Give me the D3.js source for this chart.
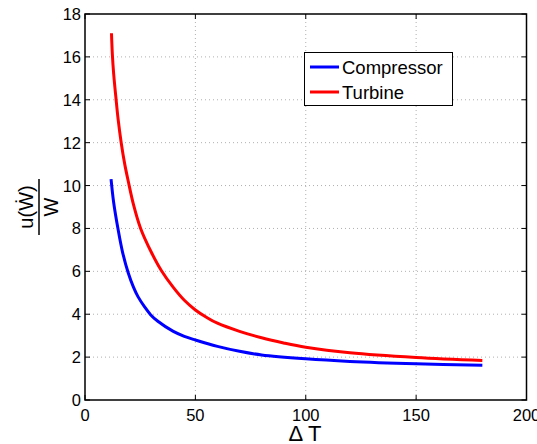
<!DOCTYPE html>
<html>
<head>
<meta charset="utf-8">
<script src="https://cdn.jsdelivr.net/npm/d3@7"></script>
<style>
body { margin: 0; background: #fff; }
text { font-family: "Liberation Sans", Arial, sans-serif; fill: #000; }
</style>
</head>
<body>
<svg width="537" height="444"></svg>
<script>
var svg = d3.select("svg");

// values
var xTicks = [0, 50, 100, 150, 200];
var yTicks = [0, 2, 4, 6, 8, 10, 12, 14, 16, 18];

var compDT = [11.8, 13, 15, 17, 19.6, 22, 24, 27, 29.7, 33, 40, 45, 50, 60, 70, 80, 100, 120, 150, 180];
var compU  = [10.3, 9.2, 7.95, 6.9, 5.92, 5.25, 4.82, 4.34, 3.98, 3.67, 3.2, 2.97, 2.8, 2.5, 2.27, 2.1, 1.92, 1.8, 1.69, 1.62];

var turbDT = [12, 12.4, 13, 14.1, 15, 16.4, 18, 19.6, 22, 25.2, 30, 34.5, 40, 45, 50, 55, 60, 70, 80, 90, 100, 120, 150, 180];
var turbU  = [17.1, 16.1, 15.2, 14.0, 13.1, 12.0, 11.0, 10.2, 9.1, 8.0, 6.9, 6.05, 5.25, 4.65, 4.2, 3.86, 3.58, 3.2, 2.9, 2.66, 2.46, 2.2, 1.98, 1.84];

var series = [
    { name: "Compressor", color: "#0000ff", xs: compDT, ys: compU },
    { name: "Turbine", color: "#ff0000", xs: turbDT, ys: turbU }
];

var pLeft = 85, pRight = 526.5, pTop = 14, pBottom = 400;

var x = d3.scaleLinear().domain([0, 200]).range([pLeft, pRight]);
var y = d3.scaleLinear().domain([0, 18]).range([pBottom, pTop]);

// grid
var grid = svg.append("g").attr("stroke", "#b0b0b0").attr("stroke-dasharray", "1,3").attr("stroke-width", 1);
grid.selectAll(".gx").data(xTicks.slice(1, -1)).enter().append("line")
    .attr("x1", function(d) { return x(d); }).attr("x2", function(d) { return x(d); })
    .attr("y1", pTop).attr("y2", pBottom);
grid.selectAll(".gy").data(yTicks.slice(1, -1)).enter().append("line")
    .attr("y1", function(d) { return y(d); }).attr("y2", function(d) { return y(d); })
    .attr("x1", pLeft).attr("x2", pRight);

// ticks inside, all four sides
var ticks = svg.append("g").attr("stroke", "#000").attr("stroke-width", 1);
xTicks.forEach(function(d) {
    ticks.append("line").attr("x1", x(d)).attr("x2", x(d)).attr("y1", pBottom).attr("y2", pBottom - 5);
    ticks.append("line").attr("x1", x(d)).attr("x2", x(d)).attr("y1", pTop).attr("y2", pTop + 5);
});
yTicks.forEach(function(d) {
    ticks.append("line").attr("y1", y(d)).attr("y2", y(d)).attr("x1", pLeft).attr("x2", pLeft + 5);
    ticks.append("line").attr("y1", y(d)).attr("y2", y(d)).attr("x1", pRight).attr("x2", pRight - 5);
});

svg.append("g").selectAll("text").data(xTicks).enter().append("text")
    .attr("x", function(d) { return x(d); }).attr("y", 421)
    .attr("text-anchor", "middle").attr("font-size", 16.5)
    .text(function(d) { return d; });
svg.append("g").selectAll("text").data(yTicks).enter().append("text")
    .attr("x", 81).attr("y", function(d) { return y(d) + 6; })
    .attr("text-anchor", "end").attr("font-size", 16.5)
    .text(function(d) { return d; });

// curves
var line = d3.line().curve(d3.curveCatmullRom.alpha(0.5));
series.forEach(function(s) {
    var pts = s.xs.map(function(v, i) { return [x(v), y(s.ys[i])]; });
    svg.append("path").attr("d", line(pts))
        .attr("fill", "none").attr("stroke", s.color).attr("stroke-width", 3);
});

// frame
svg.append("rect").attr("x", pLeft).attr("y", pTop)
    .attr("width", pRight - pLeft).attr("height", pBottom - pTop)
    .attr("fill", "none").attr("stroke", "#000").attr("stroke-width", 1.5);

// legend
var lg = svg.append("g");
lg.append("rect").attr("x", 304.5).attr("y", 52.5).attr("width", 148).attr("height", 53)
    .attr("fill", "#fff").attr("stroke", "#000").attr("stroke-width", 1);
series.forEach(function(s, i) {
    var ly = 67 + i * 25;
    lg.append("line").attr("x1", 310).attr("x2", 339).attr("y1", ly).attr("y2", ly)
        .attr("stroke", s.color).attr("stroke-width", 3);
    lg.append("text").attr("x", 342).attr("y", ly + 6.5).attr("font-size", 18.5).text(s.name);
});

// axis labels
svg.append("text").attr("x", 305).attr("y", 441).attr("text-anchor", "middle")
    .attr("font-size", 22).text("\u0394 T");

var yl = svg.append("g").attr("transform", "translate(39,207) rotate(-90)");
yl.append("line").attr("x1", -28).attr("x2", 28).attr("y1", 0).attr("y2", 0)
    .attr("stroke", "#000").attr("stroke-width", 1.5);
yl.append("text").attr("x", 0).attr("y", -6).attr("text-anchor", "middle")
    .attr("font-size", 20).text("u(W\u0307)");
yl.append("text").attr("x", 0).attr("y", 19).attr("text-anchor", "middle")
    .attr("font-size", 20).text("W");
</script>
</body>
</html>
